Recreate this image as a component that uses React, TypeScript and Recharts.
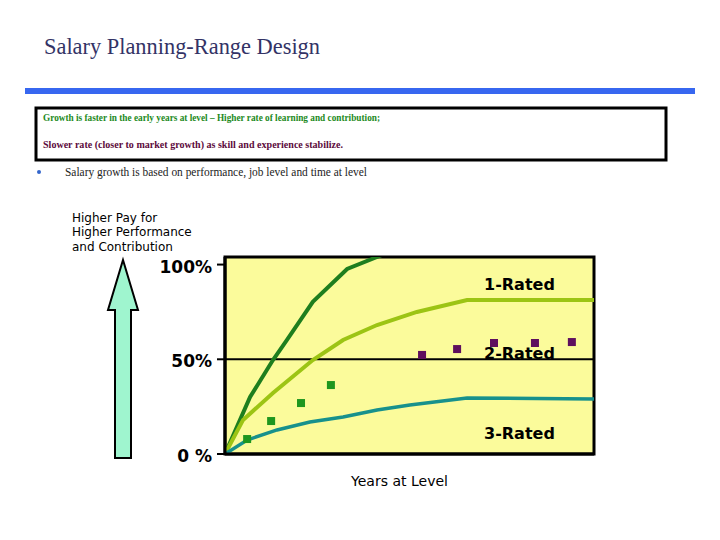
import React from "react";
import {
  ComposedChart,
  Line,
  Scatter,
  XAxis,
  YAxis,
  ReferenceArea,
  ReferenceLine,
} from "recharts";

// salary position (% of range) against time at level
const topYears = [0, 6.8, 13.0, 16.8, 23.8, 33.1, 41.2, 46];
const topPay = [0, 30.1, 49.6, 60.2, 80.3, 97.7, 104, 108];

const midYears = [0, 4.9, 13.0, 23.8, 32.0, 41.2, 52.0, 65.6, 100];
const midPay = [0, 18.0, 32.2, 49.6, 60.2, 68.1, 75.0, 81.3, 81.3];

const lowYears = [0, 6.0, 14.1, 23.0, 32.0, 41.2, 50.1, 65.6, 100];
const lowPay = [0, 7.4, 12.7, 16.9, 19.5, 23.2, 25.9, 29.6, 29.0];

const earlyYears = [6.0, 12.5, 20.6, 28.7];
const earlyPay = [7.9, 17.4, 26.9, 36.4];

const lateYears = [53.4, 62.9, 72.9, 84.0, 94.0];
const latePay = [52.3, 55.4, 58.6, 58.6, 59.1];

const yTicks = [0, 50, 100];
const yTickLabels = ["0 %", "50%", "100%"];

const ratings = ["1-Rated", "2-Rated", "3-Rated"];

const pts = (xs: number[], ys: number[]) => xs.map((x, i) => ({ x, y: ys[i] }));

const SANS = "'DejaVu Sans', Verdana, sans-serif";
const SERIF = "'Liberation Serif', 'DejaVu Serif', serif";

const PctTick = (props: any) => {
  const { x, y, payload } = props;
  const label = yTickLabels[yTicks.indexOf(payload.value)];
  return (
    <text
      x={x}
      y={y + 2}
      textAnchor="end"
      dominantBaseline="central"
      fontFamily={SANS}
      fontWeight="bold"
      fontSize={17}
      fill="#000"
    >
      {label}
    </text>
  );
};

const square = (color: string) => (props: any) =>
  <rect x={props.cx - 4} y={props.cy - 4} width={8} height={8} fill={color} />;

export default function App() {
  return (
    <div style={{ position: "absolute", left: 0, top: 0, width: 720, height: 540, background: "#fff" }}>
      <div style={{ position: "absolute", left: 0, top: 0 }}>
        <ComposedChart width={720} height={540} margin={{ top: 257, right: 126, bottom: 46, left: 165 }}>
          <XAxis
            type="number"
            dataKey="x"
            domain={[0, 100]}
            allowDataOverflow
            tick={false}
            tickLine={false}
            axisLine={{ stroke: "#000", strokeWidth: 3 }}
            height={40}
            label={{
              value: "Years at Level",
              position: "insideBottom",
              offset: 8,
              dx: -10,
              fontFamily: SANS,
              fontSize: 14,
              fill: "#000",
            }}
          />
          <YAxis
            type="number"
            dataKey="y"
            domain={[0, 104]}
            allowDataOverflow
            ticks={yTicks}
            width={60}
            tick={<PctTick />}
            tickSize={8}
            tickMargin={5}
            tickLine={{ stroke: "#000", strokeWidth: 2 }}
            axisLine={{ stroke: "#000", strokeWidth: 3 }}
          />
          <ReferenceArea x1={0} x2={100} y1={0} y2={104} fill="#fbfb9b" fillOpacity={1} stroke="#000" strokeWidth={3} />
          <ReferenceLine y={50} stroke="#000" strokeWidth={2} />
          <Line data={pts(topYears, topPay)} dataKey="y" type="linear" stroke="#1e7e1e" strokeWidth={4} dot={false} isAnimationActive={false} />
          <Line data={pts(midYears, midPay)} dataKey="y" type="linear" stroke="#9cc414" strokeWidth={4} dot={false} isAnimationActive={false} />
          <Line data={pts(lowYears, lowPay)} dataKey="y" type="linear" stroke="#17918c" strokeWidth={3.5} dot={false} isAnimationActive={false} />
          <Scatter data={pts(earlyYears, earlyPay)} dataKey="y" shape={square("#1e961e")} isAnimationActive={false} />
          <Scatter data={pts(lateYears, latePay)} dataKey="y" shape={square("#5e0f5e")} isAnimationActive={false} />
        </ComposedChart>
      </div>
      <svg width={720} height={540} style={{ position: "absolute", left: 0, top: 0, pointerEvents: "none" }}>
        <text x={44} y={54} fontFamily={SERIF} fontSize={24} fill="#333366" textLength={276} lengthAdjust="spacingAndGlyphs">
          Salary Planning-Range Design
        </text>
        <rect x={25} y={88} width={670} height={6} fill="#3767f0" />
        <rect x={36} y={108} width={630} height={52} fill="none" stroke="#000" strokeWidth={3} />
        <text x={43} y={121} fontFamily={SERIF} fontWeight="bold" fontSize={11} fill="#1d8a1d" textLength={337} lengthAdjust="spacingAndGlyphs">
          Growth is faster in the early years at level – Higher rate of learning and contribution;
        </text>
        <text x={43} y={148} fontFamily={SERIF} fontWeight="bold" fontSize={11} fill="#5c0a3c" textLength={300} lengthAdjust="spacingAndGlyphs">
          Slower rate (closer to market growth) as skill and experience stabilize.
        </text>
        <circle cx={39} cy={172} r={2} fill="#3366cc" />
        <text x={65} y={176} fontFamily={SERIF} fontSize={12.5} fill="#222" textLength={302} lengthAdjust="spacingAndGlyphs">
          Salary growth is based on performance, job level and time at level
        </text>
        <g fontFamily={SANS} fontSize={12} fill="#000">
          <text x={72} y={222}>Higher Pay for</text>
          <text x={72} y={236}>Higher Performance</text>
          <text x={72} y={251}>and Contribution</text>
        </g>
        <polygon
          points="123,260 138,310 131,310 131,458 115,458 115,310 108,310"
          fill="#9ff5cf"
          stroke="#000"
          strokeWidth={2}
        />
        <g fontFamily={SANS} fontWeight="bold" fontSize={16} fill="#000">
          <text x={484} y={290}>{ratings[0]}</text>
          <text x={484} y={359}>{ratings[1]}</text>
          <text x={484} y={439}>{ratings[2]}</text>
        </g>
      </svg>
    </div>
  );
}
